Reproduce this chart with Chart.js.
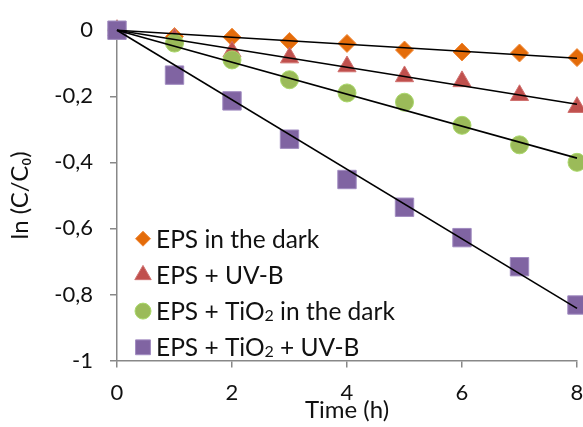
<!DOCTYPE html>
<html>
<head>
<meta charset="utf-8">
<script src="https://cdn.jsdelivr.net/npm/chart.js@4.4.1/dist/chart.umd.min.js"></script>
<style>
  html, body { margin: 0; padding: 0; background: #fff; }
</style>
</head>
<body>
<canvas id="myChart" width="583" height="427"></canvas>
<script>
// x values (hours)
const timeH = [0, 1, 2, 3, 4, 5, 6, 7, 8]

// ln(C/C0)
const epsDark      = [0, -0.019, -0.021, -0.034, -0.040, -0.060, -0.066, -0.069, -0.083]
const epsUvb       = [0, -0.026, -0.065, -0.083, -0.110, -0.140, -0.155, -0.197, -0.233]
const epsTio2Dark  = [0, -0.039, -0.090, -0.150, -0.190, -0.218, -0.288, -0.347, -0.400]
const epsTio2Uvb   = [0, -0.136, -0.214, -0.330, -0.452, -0.536, -0.628, -0.716, -0.832]

const seriesNames = ['EPS in the dark', 'EPS + UV-B', 'EPS + TiO₂ in the dark', 'EPS + TiO₂ + UV-B']

// axis ticks
const xTicks = [0, 2, 4, 6, 8]
const xTickLabels = ['0', '2', '4', '6', '8']
const yTicks = [0, -0.2, -0.4, -0.6, -0.8, -1]
const yTickLabels = ['0', '-0,2', '-0,4', '-0,6', '-0,8', '-1']

const FONT = 'Lato, "Open Sans", sans-serif'

// marker look per series
const styles = [
  { pointStyle: 'rectRot',  radius: 9,    fill: '#E46C0A', border: '#F08A3A', legendR: 7.5 },
  { pointStyle: 'triangle', radius: 10.5, fill: '#C0504D', border: '#D07270', legendR: 9.5 },
  { pointStyle: 'circle',   radius: 9,    fill: '#9BBB59', border: '#A9D86A', legendR: 8 },
  { pointStyle: 'rect',     radius: 13,   fill: '#8064A2', border: '#A08BC0', legendR: 10.5 }
]
const allSeries = [epsDark, epsUvb, epsTio2Dark, epsTio2Uvb]

// linear trend forced through origin (least squares), like the excel trendline
const slopeThroughOrigin = (xs, ys) => {
  let sxy = 0, sxx = 0
  for (let i = 0; i < xs.length; i++) { sxy += xs[i] * ys[i]; sxx += xs[i] * xs[i] }
  return sxy / sxx
}

const datasets = []
allSeries.forEach((ys, i) => {
  const s = styles[i]
  datasets.push({
    type: 'scatter',
    label: seriesNames[i],
    data: timeH.map((x, j) => ({ x: x, y: ys[j] })),
    pointStyle: s.pointStyle,
    pointRadius: s.radius,
    pointHoverRadius: s.radius,
    backgroundColor: s.fill,
    borderColor: s.border,
    borderWidth: 1,
    showLine: false,
    clip: false,
    order: 4 - i + 1
  })
})
allSeries.forEach((ys, i) => {
  const k = slopeThroughOrigin(timeH, ys)
  const xEnd = timeH[timeH.length - 1]
  datasets.push({
    type: 'line',
    label: 'trend' + i,
    data: [{ x: 0, y: 0 }, { x: xEnd, y: k * xEnd }],
    borderColor: '#000',
    borderWidth: 1.6,
    pointRadius: 0,
    fill: false,
    clip: false,
    order: 0
  })
})

// draws "TiO₂" with a small lowered 2
const drawRich = (ctx, text, x, y, size) => {
  const parts = text.split('₂')
  let cx = x
  parts.forEach((p, i) => {
    ctx.font = size + 'px ' + FONT
    ctx.fillText(p, cx, y)
    cx += ctx.measureText(p).width
    if (i < parts.length - 1) {
      ctx.font = Math.round(size * 0.65) + 'px ' + FONT
      ctx.fillText('2', cx, y + 4)
      cx += ctx.measureText('2').width
    }
  })
}

// legend sits inside the plot, lower left
const insideLegend = {
  id: 'insideLegend',
  afterDraw(chart) {
    const ctx = chart.ctx
    const area = chart.chartArea
    ctx.save()
    seriesNames.forEach((name, i) => {
      const s = styles[i]
      const mx = area.left + 26
      const my = area.top + 208.5 + i * 36.2
      ctx.fillStyle = s.fill
      ctx.strokeStyle = s.border
      ctx.lineWidth = 1
      Chart.helpers.drawPoint(ctx, { pointStyle: s.pointStyle, radius: s.legendR, borderWidth: 1, rotation: 0 }, mx, my)
      ctx.fillStyle = '#111'
      ctx.textBaseline = 'middle'
      ctx.textAlign = 'left'
      drawRich(ctx, name, mx + 13, my + 1, 24.5)
    })
    ctx.restore()
  }
}

const config = {
  type: 'scatter',
  data: { datasets: datasets },
  options: {
    responsive: false,
    animation: false,
    devicePixelRatio: 1,
    layout: { autoPadding: false, padding: { top: 18.5, right: 6, left: 0, bottom: 0 } },
    plugins: {
      legend: { display: false },
      tooltip: { enabled: false }
    },
    scales: {
      x: {
        type: 'linear',
        min: 0,
        max: 8,
        afterBuildTicks: (scale) => { scale.ticks = xTicks.map(v => ({ value: v })) },
        afterFit: (scale) => { scale.height = 66.5; scale.paddingRight = 0 },
        ticks: {
          callback: (v, idx) => xTickLabels[idx],
          color: '#111',
          font: { family: FONT, size: 22 },
          padding: 12,
          maxRotation: 0
        },
        grid: { drawOnChartArea: false, drawTicks: true, tickLength: 7, color: '#888', lineWidth: 1.5 },
        border: { color: '#888', width: 1.5 },
        title: {
          display: true,
          text: 'Time (h)',
          color: '#111',
          font: { family: FONT, size: 24 },
          padding: { top: 0, bottom: 2 }
        }
      },
      y: {
        type: 'linear',
        min: -1,
        max: 0,
        afterBuildTicks: (scale) => { scale.ticks = yTicks.map(v => ({ value: v })) },
        afterFit: (scale) => { scale.width = 117 },
        ticks: {
          callback: (v, idx) => yTickLabels[idx],
          color: '#111',
          font: { family: FONT, size: 22 },
          padding: 17
        },
        grid: { drawOnChartArea: false, drawTicks: true, tickLength: 7, color: '#888', lineWidth: 1.5 },
        border: { color: '#888', width: 1.5 },
        title: {
          display: true,
          text: 'ln (C/C₀)',
          color: '#111',
          font: { family: FONT, size: 24 },
          padding: { top: 6, bottom: 0 }
        }
      }
    }
  },
  plugins: [insideLegend]
}

const myChart = new Chart(document.getElementById('myChart'), config)
</script>
</body>
</html>
